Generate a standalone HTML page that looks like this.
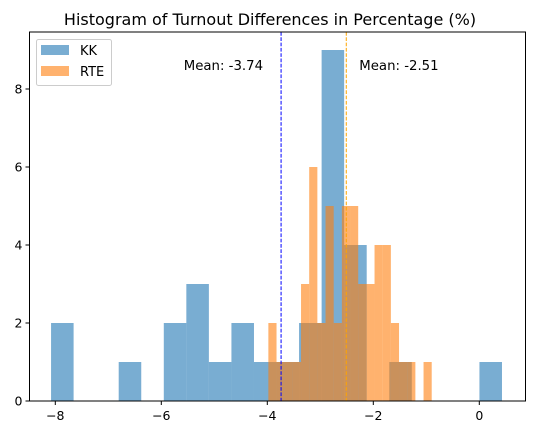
<!DOCTYPE html>
<html><head><meta charset="utf-8"><style>
body{margin:0;background:#fff}
svg text{font-family:"DejaVu Sans","Liberation Sans",sans-serif;fill:#000}
</style></head><body>
<svg id="chart" width="534" height="435" xmlns="http://www.w3.org/2000/svg">
<text x="270" y="25" font-size="16" text-anchor="middle">Histogram of Turnout Differences in Percentage (%)</text>
<g id="bars"></g>
<g id="axes"></g>
</svg>
<script>
const kkStart = -8.08;
const kkBinWidth = 0.4254;
const kkCounts = [2,0,0,1,0,2,3,1,2,1,1,2,9,4,0,1,0,0,0,1];
const rteStart = -3.98;
const rteBinWidth = 0.1541;
const rteCounts = [2,1,1,1,3,6,2,5,2,5,5,3,3,4,4,2,1,1,0,1];
const means = [-3.74, -2.51];
const meanLabels = ["Mean: -3.74", "Mean: -2.51"];
const xTicks = [-8,-6,-4,-2,0];
const yTicks = [0,2,4,6,8];

const L=29.5,R=525.5,T=32,B=401;
const X=v=>479.3+53*v;
const Y=v=>B-39*v;
const NS='http://www.w3.org/2000/svg';
const svg=document.getElementById('chart');
const bars=document.getElementById('bars');
const axes=document.getElementById('axes');
function mk(tag,attrs,parent){const e=document.createElementNS(NS,tag);for(const k in attrs)e.setAttribute(k,attrs[k]);parent.appendChild(e);return e;}

kkCounts.forEach((c,i)=>{if(!c)return;
 const x0=X(kkStart+i*kkBinWidth),x1=X(kkStart+(i+1)*kkBinWidth);
 const r=mk('rect',{x:x0,y:Y(c),width:x1-x0,height:Y(0)-Y(c),fill:'#1f77b4','fill-opacity':0.6},bars);
 
 
});
rteCounts.forEach((c,i)=>{if(!c)return;
 const x0=X(rteStart+i*rteBinWidth),x1=X(rteStart+(i+1)*rteBinWidth);
 const r=mk('rect',{x:x0,y:Y(c),width:x1-x0,height:Y(0)-Y(c),fill:'#ff7f0e','fill-opacity':0.6},bars);
 
 
});
const mc=['blue','orange'];
means.forEach((m,i)=>{
 const l=mk('line',{x1:X(m),x2:X(m),y1:T,y2:B,stroke:mc[i],'stroke-width':1,'stroke-dasharray':'3.7,1.6'},bars);
 
 
 const t=mk('text',{x:i==0?X(m)-18:X(m)+13,y:70,'font-size':13.3,'text-anchor':i==0?'end':'start'},bars);
 t.textContent=meanLabels[i];
 
 
});
const frame=mk('rect',{x:L,y:T,width:R-L,height:B-T,fill:'none',stroke:'#000','stroke-width':1},axes);


xTicks.forEach(v=>{
 mk('line',{x1:X(v),x2:X(v),y1:B,y2:B+4,stroke:'#000'},axes);
 const t=mk('text',{x:X(v),y:B+19,'font-size':12.5,'text-anchor':'middle'},axes);
 t.textContent=v<0?'\u2212'+Math.abs(v):String(v);
 
 
});
yTicks.forEach(v=>{
 mk('line',{x1:L-4,x2:L,y1:Y(v),y2:Y(v),stroke:'#000'},axes);
 const t=mk('text',{x:L-7,y:Y(v)+4.5,'font-size':12.5,'text-anchor':'end'},axes);
 t.textContent=String(v);
 
 
});
const lg=mk('g',{},axes);


mk('rect',{x:36.5,y:39.5,width:75,height:46,rx:2,fill:'#fff','fill-opacity':0.8,stroke:'#ccc'},lg);
mk('rect',{x:41,y:45,width:28,height:10,fill:'#1f77b4','fill-opacity':0.6},lg);
mk('rect',{x:41,y:66,width:28,height:10,fill:'#ff7f0e','fill-opacity':0.6},lg);
const t1=mk('text',{x:80,y:55,'font-size':13},lg);t1.textContent='KK';


const t2=mk('text',{x:80,y:76,'font-size':13},lg);t2.textContent='RTE';


</script>
</body></html>
